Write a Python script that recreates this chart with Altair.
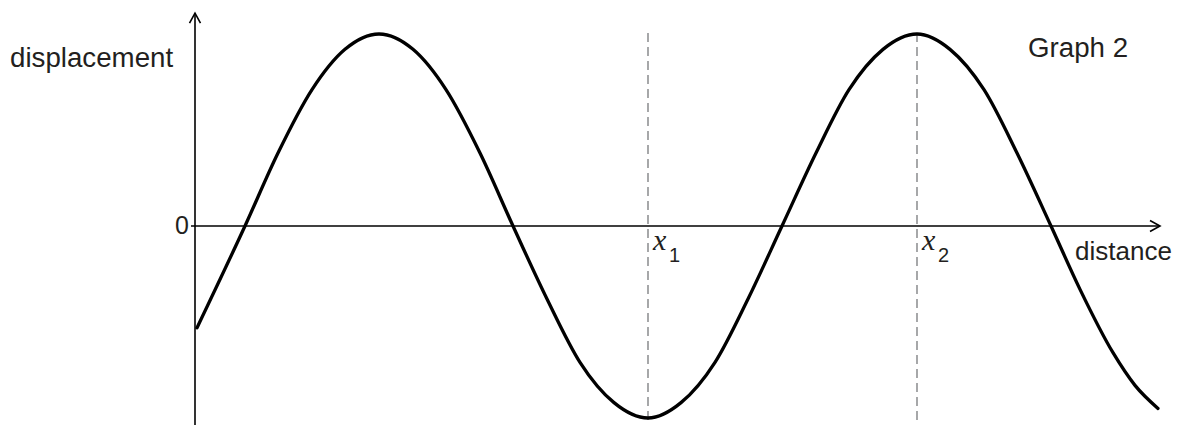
import altair as alt
import pandas as pd

# ---- values (distance from the vertical axis, displacement as fraction of amplitude)
distance = [2, 50, 83, 117, 150, 184, 218, 251, 285, 318,
            352, 385, 419, 453, 486, 520, 553, 587, 621, 654,
            688, 722, 755, 789, 822, 856, 885, 918, 940, 963]
displacement = [-0.53, 0.0, 0.38, 0.71, 0.92, 1.0, 0.92, 0.71, 0.38, 0.0,
                -0.38, -0.71, -0.92, -1.0, -0.92, -0.71, -0.38, 0.0, 0.38, 0.71,
                0.92, 1.0, 0.92, 0.71, 0.38, 0.0, -0.33, -0.66, -0.83, -0.95]
marker_x = [453, 722]          # x1 (trough) and x2 (crest)
marker_sub = ["1", "2"]

# ---- layout
W, H = 1165, 417
XDOM = [-187, 978]
YDOM = [-1.0365, 1.1354]
X_END = 965       # tip of distance axis arrow
Y_TOP = 1.109     # tip of displacement axis arrow
Y_BOT = -1.036
INK = "#231f20"
SANS = "Liberation Sans"
SERIF = "Liberation Serif"

xs = alt.Scale(domain=XDOM, nice=False, zero=False)
ys = alt.Scale(domain=YDOM, nice=False, zero=False)


def X(f):
    return alt.X(f, type="quantitative", scale=xs, axis=None)


def Y(f):
    return alt.Y(f, type="quantitative", scale=ys, axis=None)


curve_df = pd.DataFrame({"d": distance, "s": displacement})
curve = alt.Chart(curve_df).mark_line(
    color="black", strokeWidth=3.3, interpolate="monotone", strokeCap="round"
).encode(x=X("d"), y=Y("s"))

# axes
axes_df = pd.DataFrame({
    "x": [-4, 0], "x2": [X_END, 0], "y": [0, Y_BOT], "y2": [0, Y_TOP]
})
axes = alt.Chart(axes_df).mark_rule(color="black", strokeWidth=1.6).encode(
    x=X("x"), x2="x2", y=Y("y"), y2="y2"
)
arrow_df = pd.DataFrame({"x": [X_END, 0], "y": [0, Y_TOP], "ang": [0, 270]})
arrows = alt.Chart(arrow_df).mark_point(
    shape="M-1,-0.55L0,0L-1,0.55", filled=False, size=400,
    strokeWidth=1.6, color="black", opacity=1
).encode(x=X("x"), y=Y("y"), angle=alt.Angle("ang:Q", scale=None))

# dashed markers
mk_df = pd.DataFrame({"x": marker_x, "y": [-1.01] * 2, "y2": [1.005] * 2,
                      "sub": marker_sub})
dashes = alt.Chart(mk_df).mark_rule(
    color="#6d6e71", strokeWidth=1.2, strokeDash=[9, 5]
).encode(x=X("x"), y=Y("y"), y2="y2")

xlab = alt.Chart(mk_df).transform_calculate(lab="'x'", yy="-0.125").mark_text(
    font=SERIF, fontStyle="italic", fontSize=30, align="left",
    baseline="alphabetic", color=INK, dx=5
).encode(x=X("x"), y=Y("yy:Q"), text="lab:N")
sublab = alt.Chart(mk_df).transform_calculate(yy="-0.19").mark_text(
    font=SANS, fontSize=20, align="left", baseline="alphabetic",
    color=INK, dx=21
).encode(x=X("x"), y=Y("yy:Q"), text="sub:N")

# text labels
txt_df = pd.DataFrame({
    "t": ["displacement", "Graph 2"],
    "x": [-185, 833],
    "y": [0.828, 0.880],
})
texts = alt.Chart(txt_df).mark_text(
    font=SANS, fontSize=27.7, align="left", baseline="alphabetic", color=INK
).encode(x=X("x"), y=Y("y"), text="t:N")

dist_df = pd.DataFrame({"t": ["distance"], "x": [880], "y": [-0.177]})
dist = alt.Chart(dist_df).mark_text(
    font=SANS, fontSize=26, align="left", baseline="alphabetic", color=INK
).encode(x=X("x"), y=Y("y"), text="t:N")

zero_df = pd.DataFrame({"t": ["0"], "x": [-6], "y": [0.0]})
zero = alt.Chart(zero_df).mark_text(
    font=SANS, fontSize=25, align="right", baseline="middle", color=INK
).encode(x=X("x"), y=Y("y"), text="t:N")

chart = alt.layer(dashes, axes, arrows, curve, xlab, sublab, texts, dist, zero).properties(
    width=W, height=H, autosize=alt.AutoSizeParams(type="none"), padding=0,
    background="white"
).configure_view(stroke=None)

chart.save("out.html", embed_options={"renderer": "svg", "actions": False})
